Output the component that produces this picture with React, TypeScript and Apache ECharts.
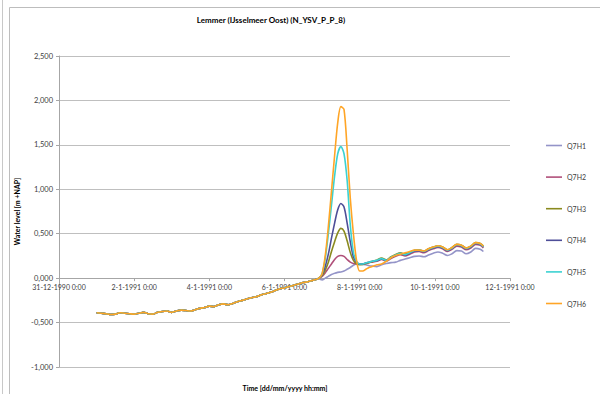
import React, { useEffect, useRef } from "react";
import * as echarts from "echarts";

const seriesNames = ["Q7H1", "Q7H2", "Q7H3", "Q7H4", "Q7H5", "Q7H6"];
const seriesColors = ["#9494C8", "#B0507A", "#8A8A1E", "#4E4E98", "#3CD2D2", "#FFA526"];

// hours since 31-12-1990 0:00
const xTickHours = [0, 48, 96, 144, 192, 240, 288];
const yTicks = [-1, -0.5, 0, 0.5, 1, 1.5, 2, 2.5];

// common rising part (identical for all runs)
const riseHours = [24, 27, 30, 33, 36, 39, 42, 45, 48, 51, 54, 57, 60, 63, 66, 69, 72, 75, 78, 81, 84, 87, 90, 93, 96, 99, 102, 105, 108, 111, 114, 117, 120, 123, 126, 129, 132, 135, 138, 141, 144, 147, 150, 153, 156, 159, 162, 164];
const riseLevel = [-0.39, -0.395, -0.4, -0.41, -0.405, -0.39, -0.395, -0.4, -0.405, -0.395, -0.385, -0.4, -0.405, -0.385, -0.375, -0.37, -0.385, -0.37, -0.36, -0.365, -0.37, -0.355, -0.34, -0.33, -0.315, -0.32, -0.3, -0.29, -0.3, -0.285, -0.265, -0.25, -0.235, -0.22, -0.21, -0.19, -0.175, -0.16, -0.14, -0.12, -0.11, -0.095, -0.08, -0.065, -0.05, -0.04, -0.025, -0.015];

// surge part, per run
const surgeHours = [166, 168, 170, 172, 174, 176, 178, 180, 182, 184, 186, 188, 190, 192, 194, 196, 198, 200, 203, 206, 209, 212, 215, 218, 221, 224, 227, 230, 233, 236, 239, 242, 245, 248, 251, 254, 257, 260, 263, 266, 269, 271];

const q7h1 = [-0.01, -0.02, 0.0, 0.02, 0.04, 0.055, 0.065, 0.07, 0.08, 0.1, 0.12, 0.145, 0.16, 0.16, 0.155, 0.15, 0.14, 0.135,
  0.13, 0.15, 0.165, 0.175, 0.18, 0.2, 0.215, 0.23, 0.245, 0.25, 0.24, 0.26, 0.28, 0.295, 0.28, 0.255, 0.275, 0.31, 0.305, 0.275, 0.295, 0.335, 0.325, 0.3];
const q7h2 = [0.0, 0.02, 0.06, 0.11, 0.16, 0.21, 0.245, 0.255, 0.245, 0.21, 0.18, 0.165, 0.16, 0.16, 0.16, 0.165, 0.175, 0.18,
  0.19, 0.21, 0.19, 0.22, 0.245, 0.265, 0.25, 0.27, 0.295, 0.3, 0.285, 0.31, 0.33, 0.345, 0.33, 0.3, 0.325, 0.36, 0.35, 0.32, 0.34, 0.38, 0.37, 0.34];
const q7h3 = [0.0, 0.03, 0.09, 0.18, 0.3, 0.41, 0.51, 0.56, 0.53, 0.42, 0.29, 0.2, 0.16, 0.15, 0.155, 0.165, 0.175, 0.185,
  0.205, 0.225, 0.205, 0.24, 0.265, 0.285, 0.27, 0.29, 0.315, 0.32, 0.305, 0.33, 0.35, 0.365, 0.35, 0.32, 0.345, 0.38, 0.37, 0.34, 0.36, 0.4, 0.39, 0.36];
const q7h4 = [0.0, 0.04, 0.13, 0.27, 0.45, 0.62, 0.77, 0.84, 0.8, 0.62, 0.41, 0.24, 0.18, 0.16, 0.16, 0.17, 0.18, 0.19,
  0.195, 0.215, 0.2, 0.23, 0.255, 0.275, 0.26, 0.28, 0.305, 0.31, 0.295, 0.32, 0.34, 0.355, 0.34, 0.31, 0.335, 0.37, 0.36, 0.33, 0.35, 0.39, 0.38, 0.35];
const q7h5 = [0.0, 0.05, 0.22, 0.5, 0.82, 1.15, 1.4, 1.48, 1.4, 1.1, 0.6, 0.29, 0.19, 0.16, 0.16, 0.17, 0.18, 0.19,
  0.2, 0.22, 0.2, 0.235, 0.26, 0.28, 0.265, 0.285, 0.31, 0.315, 0.3, 0.325, 0.345, 0.36, 0.345, 0.315, 0.34, 0.375, 0.365, 0.335, 0.355, 0.395, 0.385, 0.355];
const q7h6 = [0.0, 0.05, 0.25, 0.58, 0.98, 1.38, 1.75, 1.93, 1.9, 1.45, 0.9, 0.5, 0.2, 0.08, 0.08, 0.1, 0.12, 0.13,
  0.15, 0.16, 0.19, 0.23, 0.255, 0.27, 0.285, 0.3, 0.315, 0.315, 0.305, 0.33, 0.35, 0.365, 0.35, 0.32, 0.345, 0.38, 0.37, 0.34, 0.36, 0.4, 0.39, 0.36];

const surgeValues = [q7h1, q7h2, q7h3, q7h4, q7h5, q7h6];

const FONT = "Lato, 'Liberation Sans', sans-serif";

const Y_MIN = -1;
const Y_MAX = 2.5;
const GRID_TOP = 56;
const GRID_BOTTOM = 27;
const CHART_H = 394;

function formatHour(h: number): string {
  const d = new Date(Date.UTC(1990, 11, 31) + h * 3600 * 1000);
  return `${d.getUTCDate()}-${d.getUTCMonth() + 1}-${d.getUTCFullYear()} ${d.getUTCHours()}:${String(d.getUTCMinutes()).padStart(2, "0")}`;
}

export default function App() {
  const ref = useRef<HTMLDivElement>(null);
  useEffect(() => {
    if (!ref.current) return;
    const chart = echarts.init(ref.current, null, { renderer: "svg" });
    const plotH = CHART_H - GRID_TOP - GRID_BOTTOM;
    const zeroOffset = -(plotH * (0 - Y_MIN)) / (Y_MAX - Y_MIN);
    const series = seriesNames.map((name, i) => {
      const data: number[][] = [];
      riseHours.forEach((h, k) => data.push([h, riseLevel[k]]));
      surgeHours.forEach((h, k) => data.push([h, surgeValues[i][k]]));
      return {
        name,
        type: "line",
        data,
        showSymbol: false,
        symbol: "none",
        smooth: 0.3,
        lineStyle: { color: seriesColors[i], width: 1.6 },
        itemStyle: { color: seriesColors[i] },
        z: 2 + i,
      };
    });
    chart.setOption({
      animation: false,
      backgroundColor: "#ffffff",
      title: {
        text: "Lemmer (IJsselmeer Oost) (N_YSV_P_P_8)",
        left: 266,
        top: 11,
        textAlign: "center",
        textStyle: { fontFamily: FONT, fontSize: 8, fontWeight: "bold", color: "#000000" },
      },
      legend: {
        orient: "vertical",
        left: 546,
        top: 142,
        padding: 0,
        itemWidth: 16,
        itemHeight: 8,
        itemGap: 24.6,
        data: seriesNames.map((n) => ({ name: n, icon: "path://M0,0L16,0L16,1.6L0,1.6Z" })),
        textStyle: { fontFamily: FONT, fontSize: 7, color: "#404040" },
      },
      grid: { left: 59, right: 90, top: GRID_TOP, bottom: GRID_BOTTOM, containLabel: false },
      xAxis: {
        type: "value",
        min: 0,
        max: 288,
        interval: 48,
        position: "bottom",
        offset: zeroOffset,
        axisLine: { onZero: false, lineStyle: { color: "#A6A6A6", width: 1 } },
        axisTick: { show: true, length: 3, lineStyle: { color: "#A6A6A6" } },
        splitLine: { show: false },
        axisLabel: {
          fontFamily: FONT,
          fontSize: 7,
          color: "#404040",
          margin: 5,
          formatter: (v: number) => (xTickHours.includes(v) ? formatHour(v) : ""),
        },
      },
      yAxis: {
        type: "value",
        min: Y_MIN,
        max: Y_MAX,
        interval: 0.5,
        axisLine: { show: true, onZero: false, lineStyle: { color: "#A6A6A6", width: 1 } },
        axisTick: { show: true, length: 3, lineStyle: { color: "#A6A6A6" } },
        splitLine: { show: true, lineStyle: { color: "#BFBFBF", width: 1 } },
        axisLabel: {
          fontFamily: FONT,
          fontSize: 7.5,
          color: "#404040",
          margin: 6,
          formatter: (v: number) => (yTicks.includes(v) ? v.toFixed(3).replace(".", ",") : ""),
        },
        name: "Water level [m +NAP]",
        nameLocation: "middle",
        nameRotate: 90,
        nameGap: 38,
        nameTextStyle: { fontFamily: FONT, fontSize: 7, fontWeight: "bold", color: "#000000" },
      },
      graphic: [
        { type: "line", shape: { x1: 2.5, y1: 0, x2: 2.5, y2: 394 }, style: { stroke: "#C8C8C8", lineWidth: 1 } },
        { type: "line", shape: { x1: 9.5, y1: 7.5, x2: 9.5, y2: 394 }, style: { stroke: "#BDBDBD", lineWidth: 1 } },
        { type: "line", shape: { x1: 9.5, y1: 7.5, x2: 600, y2: 7.5 }, style: { stroke: "#BDBDBD", lineWidth: 1 } },
        {
          type: "text",
          x: 285,
          y: 388,
          style: {
            text: "Time [dd/mm/yyyy hh:mm]",
            fontFamily: FONT,
            fontSize: 7,
            fontWeight: "bold",
            fill: "#000000",
            textAlign: "center",
            textVerticalAlign: "middle",
          },
        },
      ],
      series,
    });
    return () => chart.dispose();
  }, []);
  return <div ref={ref} style={{ position: "fixed", left: 0, top: 0, width: 600, height: 394 }} />;
}
